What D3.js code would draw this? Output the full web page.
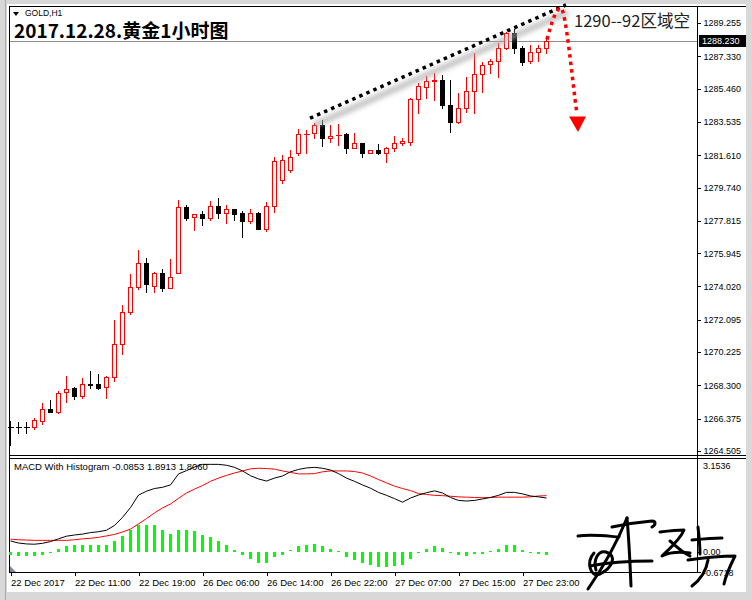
<!DOCTYPE html>
<html>
<head>
<meta charset="utf-8">
<script src="https://cdn.jsdelivr.net/npm/d3@7"></script>
<style>
  body { margin: 0; background: #fff; }
  svg { display: block; font-family: "Liberation Sans", Arial, sans-serif; }
</style>
</head>
<body>
<svg width="752" height="600"></svg>
<script>
// GOLD H1 bars, 22 Dec 03:00 -> 28 Dec 02:00
const open = [1265.92,1265.88,1265.88,1265.88,1266.22,1266.93,1266.76,1267.90,1268.15,1267.70,
  1268.38,1268.36,1268.22,1268.77,1270.68,1272.56,1273.97,1275.36,1274.06,1274.78,
  1273.91,1274.78,1278.60,1278.02,1278.21,1278.00,1278.67,1278.29,1278.48,1278.25,
  1277.82,1278.25,1277.34,1278.67,1280.18,1280.75,1281.76,1282.82,1282.88,1283.36,
  1282.59,1282.76,1282.84,1282.01,1282.30,1281.76,1281.91,1281.72,1282.01,1282.30,
  1282.36,1284.84,1285.54,1285.90,1285.96,1284.51,1283.55,1284.32,1285.34,1286.31,
  1286.87,1287.06,1287.79,1288.69,1287.79,1287.06,1287.58,1287.79];
const high = [1266.24,1266.20,1266.20,1266.43,1267.30,1267.45,1267.98,1268.84,1268.21,1268.71,
  1269.13,1268.96,1268.84,1272.08,1272.95,1274.74,1276.13,1275.65,1274.87,1275.01,
  1275.61,1279.02,1278.73,1278.21,1278.38,1278.96,1279.15,1278.73,1278.48,1278.38,
  1278.50,1278.31,1278.92,1281.51,1281.62,1281.91,1283.11,1283.07,1283.49,1283.65,
  1283.36,1283.41,1282.91,1282.88,1282.30,1281.91,1282.26,1282.10,1282.72,1282.62,
  1284.90,1285.77,1286.19,1286.35,1286.25,1285.96,1285.19,1286.15,1287.50,1287.02,
  1287.16,1288.08,1288.75,1288.89,1287.93,1288.01,1287.98,1288.37];
const low = [1264.85,1265.53,1265.53,1265.76,1266.05,1266.74,1266.72,1267.31,1267.51,1267.59,
  1268.13,1268.11,1267.59,1268.57,1270.13,1272.45,1273.86,1273.72,1273.72,1273.78,
  1273.91,1274.78,1277.86,1277.29,1277.57,1277.86,1278.00,1277.71,1277.86,1276.90,
  1277.71,1277.34,1277.23,1278.34,1280.00,1280.64,1281.62,1281.72,1282.59,1282.14,
  1282.36,1282.20,1281.76,1282.01,1281.52,1281.76,1281.66,1281.23,1281.87,1282.20,
  1282.20,1284.07,1284.90,1284.80,1284.32,1282.97,1283.46,1284.13,1284.03,1285.28,
  1286.35,1286.15,1287.73,1287.54,1286.80,1286.97,1287.06,1287.52];
const close = [1265.89,1265.87,1265.88,1266.30,1266.92,1266.78,1267.84,1268.07,1267.70,1268.36,
  1268.34,1268.17,1268.77,1270.68,1272.56,1273.97,1275.36,1274.15,1274.78,1273.95,
  1274.58,1278.60,1278.00,1278.19,1278.00,1278.67,1278.29,1278.48,1278.21,1277.82,
  1278.25,1277.34,1278.67,1281.28,1281.33,1281.52,1282.84,1282.85,1283.36,1282.59,
  1282.72,1282.80,1282.01,1282.30,1281.76,1281.91,1281.72,1282.01,1282.30,1282.43,
  1284.86,1285.61,1285.90,1285.94,1284.51,1283.55,1284.32,1285.34,1286.29,1286.83,
  1287.06,1287.79,1288.65,1287.79,1287.02,1287.60,1287.79,1288.23];

// MACD (black), signal (red), histogram (green)
const macd = [0.37,0.30,0.27,0.26,0.29,0.35,0.44,0.53,0.57,0.60,
  0.65,0.68,0.73,0.89,1.16,1.49,1.91,2.04,2.13,2.17,
  2.25,2.62,2.73,2.85,2.94,2.94,2.94,2.91,2.84,2.72,
  2.56,2.45,2.38,2.48,2.55,2.69,2.77,2.82,2.84,2.81,
  2.75,2.63,2.48,2.37,2.25,2.14,2.00,1.90,1.79,1.67,
  1.81,1.91,1.99,2.05,1.98,1.83,1.73,1.71,1.73,1.78,
  1.83,1.90,2.00,2.00,1.95,1.88,1.85,1.81];
const signal = [0.43,0.41,0.40,0.39,0.39,0.39,0.39,0.39,0.41,0.44,
  0.46,0.49,0.54,0.59,0.67,0.77,0.94,1.12,1.31,1.48,
  1.61,1.80,1.98,2.11,2.23,2.37,2.48,2.57,2.65,2.72,
  2.79,2.81,2.80,2.78,2.72,2.67,2.62,2.62,2.63,2.69,
  2.72,2.72,2.72,2.70,2.65,2.55,2.43,2.32,2.21,2.13,
  2.06,1.96,1.93,1.90,1.89,1.87,1.85,1.84,1.83,1.82,
  1.83,1.84,1.84,1.84,1.84,1.85,1.88,1.89];
const hist = [-0.09,-0.12,-0.14,-0.14,-0.09,-0.04,0.09,0.19,0.22,0.24,
  0.24,0.24,0.24,0.36,0.53,0.73,0.92,0.90,0.90,0.73,
  0.61,0.73,0.73,0.69,0.56,0.50,0.36,0.24,0.08,-0.11,
  -0.22,-0.36,-0.36,-0.17,-0.11,0.05,0.19,0.22,0.28,0.20,
  0.11,0.02,-0.17,-0.28,-0.36,-0.45,-0.50,-0.50,-0.47,-0.45,
  -0.22,-0.02,0.09,0.19,0.13,-0.05,-0.11,-0.13,-0.08,-0.08,
  0.03,0.11,0.22,0.22,0.08,-0.02,-0.06,-0.09];

const priceTicks = [1289.255,1287.330,1285.460,1283.535,1281.610,1279.740,1277.815,
  1275.945,1274.020,1272.095,1270.225,1268.300,1266.375,1264.505];
const bid = 1288.230;
const timeTickBars = [0,8,16,24,32,40,48,56,64];
const timeTickLabels = ["22 Dec 2017","22 Dec 11:00","22 Dec 19:00","26 Dec 06:00",
  "26 Dec 14:00","26 Dec 22:00","27 Dec 07:00","27 Dec 15:00","27 Dec 23:00"];
const macdTicks = [3.1536, 0.0, -0.6718];
const legendText = "MACD With Histogram -0.0853 1.8913 1.8060";

const svg = d3.select("svg");
const left = 9, right = 697, mainTop = 6, mainBottom = 455, subTop = 458, subBottom = 572;

const x = d3.scaleLinear().domain([0, 67]).range([10, 546]);
const y = d3.scaleLinear().domain([1264.274, 1290.238]).range([mainBottom, mainTop]);
const ym = d3.scaleLinear().domain([-0.6718, 3.1536]).range([subBottom, subTop]);

// window frame
svg.append("rect").attr("width", 752).attr("height", 600).attr("fill", "#d8d8d8");
svg.append("rect").attr("x", 7).attr("y", 4).attr("width", 739).attr("height", 588)
  .attr("fill", "#fff");
svg.append("line").attr("x1", 5.5).attr("x2", 5.5).attr("y1", 0).attr("y2", 600)
  .attr("stroke", "#a8a8a8");

const g = svg.append("g").attr("shape-rendering", "crispEdges");

// panel borders
g.append("line").attr("x1", left).attr("x2", 746).attr("y1", mainTop + 0.5).attr("y2", mainTop + 0.5)
  .attr("stroke", "#000");
g.append("line").attr("x1", left + 0.5).attr("x2", left + 0.5).attr("y1", mainTop).attr("y2", subBottom)
  .attr("stroke", "#000");
g.append("line").attr("x1", right + 0.5).attr("x2", right + 0.5).attr("y1", mainTop).attr("y2", subBottom + 1)
  .attr("stroke", "#000");
[mainBottom + 0.5, subTop + 0.5].forEach(v => {
  g.append("line").attr("x1", left).attr("x2", 746).attr("y1", v).attr("y2", v).attr("stroke", "#000");
});
g.append("line").attr("x1", left).attr("x2", right + 1).attr("y1", subBottom + 0.5).attr("y2", subBottom + 0.5)
  .attr("stroke", "#000");

// bid line
g.append("line").attr("x1", left + 1).attr("x2", right).attr("y1", Math.round(y(bid)) + 0.5)
  .attr("y2", Math.round(y(bid)) + 0.5).attr("stroke", "#8c8c8c");

// candles
const bars = d3.range(open.length);
const cg = g.append("g");
bars.forEach(i => {
  const cx = Math.round(x(i)) + 0.5;
  const up = close[i] > open[i];
  const col = up ? "#ff0000" : "#000";
  cg.append("line").attr("x1", cx).attr("x2", cx)
    .attr("y1", Math.round(y(high[i]))).attr("y2", Math.round(y(low[i])) + 1)
    .attr("stroke", col);
  const y1 = Math.round(y(Math.max(open[i], close[i])));
  const y2 = Math.round(y(Math.min(open[i], close[i])));
  if (y2 - y1 < 1) {
    cg.append("line").attr("x1", cx - 2.5).attr("x2", cx + 3.5).attr("y1", y1 + 0.5).attr("y2", y1 + 0.5)
      .attr("stroke", col);
  } else {
    cg.append("rect").attr("x", cx - 2).attr("y", y1 + 0.5).attr("width", 4).attr("height", y2 - y1)
      .attr("fill", up ? "#fff" : "#000").attr("stroke", col);
  }
});

// price axis
const ay = g.append("g").attr("transform", `translate(${right + 0.5},0)`)
  .call(d3.axisRight(y).tickValues(priceTicks).tickSize(3).tickPadding(3).tickFormat(d3.format(".3f")));
ay.select(".domain").remove();
ay.selectAll("text").attr("font-size", 9).attr("font-family", "Liberation Sans, Arial, sans-serif").attr("fill", "#000");

// bid label
g.append("rect").attr("x", right + 2).attr("y", y(bid) - 6).attr("width", 47).attr("height", 12).attr("fill", "#000");
svg.append("text").attr("x", right + 5).attr("y", y(bid) + 3.5).attr("font-size", 9).attr("fill", "#fff")
  .text(d3.format(".3f")(bid));

// MACD panel
const hg = g.append("g");
bars.forEach(i => {
  const cx = Math.round(x(i));
  const y0 = ym(0), y1 = ym(hist[i]);
  hg.append("rect").attr("x", cx - 1).attr("width", 3)
    .attr("y", Math.round(Math.min(y0, y1))).attr("height", Math.max(1, Math.round(Math.abs(y1 - y0))))
    .attr("fill", "#00ff00");
});
const line = d3.line().x((d, i) => x(i) + 0.5).y(d => ym(d));
svg.append("path").attr("d", line(signal)).attr("fill", "none").attr("stroke", "#ff0000").attr("stroke-width", 1);
svg.append("path").attr("d", line(macd)).attr("fill", "none").attr("stroke", "#000").attr("stroke-width", 1);

svg.append("text").attr("x", 14).attr("y", 470).attr("font-size", 9.5).attr("fill", "#000").text(legendText);

svg.selectAll(".mt").data(macdTicks).enter().append("text")
  .attr("x", right + 6).attr("y", (d, i) => i === 0 ? subTop + 11 : ym(d) + 3.5)
  .attr("font-size", 9).attr("fill", "#000").text(d => d === 0 ? "0.00" : d.toFixed(4));
macdTicks.slice(1).forEach(d => {
  g.append("line").attr("x1", right).attr("x2", right + 4).attr("y1", Math.round(ym(d)) + 0.5)
    .attr("y2", Math.round(ym(d)) + 0.5).attr("stroke", "#000");
});

// shift marker
svg.append("path").attr("d", `M${left + 1},${subBottom - 6}L${left + 1},${subBottom}L${left + 7},${subBottom}Z`)
  .attr("fill", "#7a8a9a");

// time axis
const ax = g.append("g").attr("transform", `translate(0.5,${subBottom + 1})`)
  .call(d3.axisBottom(x).tickValues(timeTickBars).tickSize(3).tickPadding(3)
    .tickFormat((d, i) => timeTickLabels[i]));
ax.select(".domain").remove();
ax.selectAll("text").attr("text-anchor", "start").attr("font-size", 9.5)
  .attr("font-family", "Liberation Sans, Arial, sans-serif").attr("fill", "#000");

// header
svg.append("path").attr("d", "M13,12L19,12L16,16Z").attr("fill", "#000");
svg.append("text").attr("x", 25).attr("y", 16).attr("font-size", 8.5).attr("fill", "#000").text("GOLD,H1");
svg.append("text").attr("x", 14).attr("y", 38).attr("font-size", 19).attr("font-weight", "bold")
  .attr("font-family", "'Noto Sans CJK SC', sans-serif").attr("fill", "#000")
  .text("2017.12.28.黄金1小时图");

// annotations
const defs = svg.append("defs");
defs.append("filter").attr("id", "blur").append("feGaussianBlur").attr("stdDeviation", 2.5);
const trendA = [37.5, 1283.75], trendB = [69.5, 1290.3];
svg.append("line").attr("x1", x(trendA[0]) + 4).attr("y1", y(trendA[1]) + 7)
  .attr("x2", x(trendB[0]) + 2).attr("y2", y(trendB[1]) + 7)
  .attr("stroke", "#a8a8a8").attr("stroke-width", 6).attr("filter", "url(#blur)").attr("opacity", 0.7);
svg.append("line").attr("x1", x(trendA[0])).attr("y1", y(trendA[1]))
  .attr("x2", x(trendB[0])).attr("y2", y(trendB[1]))
  .attr("stroke", "#000").attr("stroke-width", 3.5).attr("stroke-dasharray", "3.5,4.2");

svg.append("path")
  .attr("d", `M${x(67) + 1},${y(1288.3)} C${x(67) + 6},${y(1289.4)} ${x(67) + 11},${y(1290.2)} ${x(67) + 15},${y(1290.1)} C${x(67) + 20},${y(1290)} ${x(67) + 26},${y(1286)} ${x(67) + 31},${y(1284.0)}`)
  .attr("fill", "none").attr("stroke", "#ff0000").attr("stroke-width", 3.5).attr("stroke-dasharray", "3.5,4");
svg.append("path")
  .attr("d", `M${x(67) + 23},${y(1283.85)} L${x(67) + 40},${y(1283.85)} L${x(67) + 32},${y(1282.95)} Z`)
  .attr("fill", "#ff0000");

svg.append("text").attr("x", 574).attr("y", 27).attr("font-size", 16.5)
  .attr("font-family", "'Noto Sans CJK SC', sans-serif").attr("fill", "#222")
  .text("1290--92区域空");

// signature
const sig = svg.append("g").attr("fill", "none").attr("stroke", "#000").attr("stroke-width", 3)
  .attr("stroke-linecap", "round").attr("stroke-linejoin", "round");
[
  "M578,536 C592,534 606,536 619,537",
  "M627,518 C618,540 604,566 588,589",
  "M627,518 C629,540 630,562 631,586",
  "M594,553 C586,562 590,578 600,574 C612,568 618,556 606,552 C598,550 593,560 596,570",
  "M590,566 C610,562 632,561 652,561",
  "M612,527 C626,524 640,522 652,521 C656,521 656,525 652,527",
  "M660,532 C668,531 676,530 684,530 C680,540 668,550 662,556 C670,552 682,552 690,553",
  "M670,541 C676,546 682,552 690,556",
  "M698,527 C699,536 700,545 700,554",
  "M692,540 C702,539 712,538 722,538",
  "M688,560 C702,558 720,556 735,556 C730,566 726,575 724,584",
  "M708,560 C706,572 700,580 692,586"
].forEach(d => sig.append("path").attr("d", d));
</script>
</body>
</html>
